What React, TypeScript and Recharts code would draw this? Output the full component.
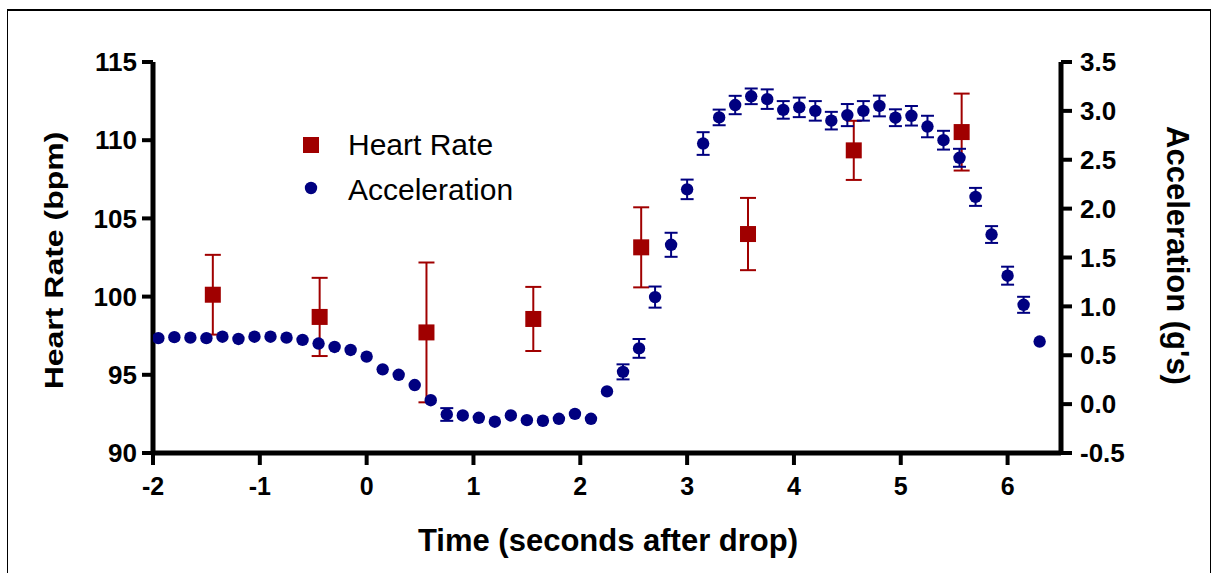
import { ErrorBar, Legend, Scatter, ScatterChart, XAxis, YAxis } from "recharts";

// acceleration samples (s after drop, g's, SEM)
const ACC_TIME = [
	-1.95, -1.8, -1.65, -1.5, -1.35, -1.2, -1.05, -0.9, -0.75, -0.6, -0.45, -0.3, -0.15, 0, 0.15, 0.3, 0.45, 0.6, 0.75,
	0.9, 1.05, 1.2, 1.35, 1.5, 1.65, 1.8, 1.95, 2.1, 2.25, 2.4, 2.55, 2.7, 2.85, 3.0, 3.15, 3.3, 3.45, 3.6, 3.75, 3.9,
	4.05, 4.2, 4.35, 4.5, 4.65, 4.8, 4.95, 5.1, 5.25, 5.4, 5.55, 5.7, 5.85, 6.0, 6.15, 6.3,
];
const ACC_VALUE = [
	0.675, 0.685, 0.68, 0.675, 0.69, 0.667, 0.69, 0.69, 0.68, 0.657, 0.62, 0.585, 0.554, 0.486, 0.356, 0.3, 0.195, 0.04,
	-0.106, -0.116, -0.14, -0.18, -0.116, -0.164, -0.17, -0.15, -0.1, -0.15, 0.13, 0.33, 0.57, 1.095, 1.63, 2.197, 2.666,
	2.933, 3.06, 3.149, 3.12, 3.01, 3.036, 3.0, 2.9, 2.957, 3.0, 3.05, 2.93, 2.95, 2.84, 2.7, 2.52, 2.12, 1.735, 1.314,
	1.016, 0.64,
];
const ACC_SEM = [
	0, 0, 0, 0, 0, 0, 0, 0, 0, 0, 0, 0, 0, 0, 0, 0, 0, 0, 0.065, 0, 0, 0, 0, 0, 0, 0, 0, 0, 0, 0.077, 0.096, 0.108, 0.123,
	0.1, 0.116, 0.08, 0.094, 0.08, 0.1, 0.09, 0.1, 0.1, 0.09, 0.113, 0.1, 0.106, 0.086, 0.1, 0.11, 0.096, 0.092, 0.092,
	0.086, 0.092, 0.082, 0,
];

// heart rate (s after drop, bpm, SEM)
const HR_TIME = [-1.44, -0.44, 0.56, 1.56, 2.57, 3.57, 4.56, 5.57];
const HR_VALUE = [100.12, 98.7, 97.71, 98.57, 103.15, 104.0, 109.35, 110.52];
const HR_SEM = [2.55, 2.5, 4.47, 2.05, 2.56, 2.31, 1.89, 2.46];

const X_TICKS = [-2, -1, 0, 1, 2, 3, 4, 5, 6];
const HR_TICKS = [90, 95, 100, 105, 110, 115];
const ACC_TICKS = [-0.5, 0, 0.5, 1, 1.5, 2, 2.5, 3, 3.5];

const RED = "#a00000";
const NAVY = "#000080";
const FONT = "'Liberation Sans', Arial, sans-serif";

const accData = ACC_TIME.map((t, i) => ({ t, v: ACC_VALUE[i], err: ACC_SEM[i] }));
const hrData = HR_TIME.map((t, i) => ({ t, v: HR_VALUE[i], err: HR_SEM[i] }));

const tickStyle = { fill: "#000", fontSize: 26, fontWeight: 700, fontFamily: FONT };
const axisLine = { stroke: "#000", strokeWidth: 5 };
const tickLine = { stroke: "#000", strokeWidth: 4 };

function Square(props: any) {
	const { cx, cy } = props;
	return <rect x={cx - 8} y={cy - 8} width={16} height={16} fill={RED} />;
}

function Dot(props: any) {
	const { cx, cy } = props;
	return <circle cx={cx} cy={cy} r={6.2} fill={NAVY} />;
}

function LeftTitle(props: any) {
	const vb = props.viewBox;
	const x = vb.x - 10;
	const y = vb.y + vb.height / 2 + 3;
	return (
		<text
			transform={`translate(${x},${y}) rotate(-90) scale(1,0.82)`}
			textAnchor="middle"
			fontSize={32}
			fontWeight={700}
			fontFamily={FONT}
			fill="#000"
		>
			Heart Rate (bpm)
		</text>
	);
}

function RightTitle(props: any) {
	const vb = props.viewBox;
	const x = vb.x + 106;
	const y = vb.y + vb.height / 2 - 2;
	return (
		<text
			transform={`translate(${x},${y}) rotate(90)`}
			textAnchor="middle"
			fontSize={31}
			fontWeight={700}
			fontFamily={FONT}
			fill="#000"
		>
			Acceleration (g's)
		</text>
	);
}

function BottomTitle(props: any) {
	const vb = props.viewBox;
	return (
		<text
			x={vb.x + vb.width / 2 + 1}
			y={vb.y + 98}
			textAnchor="middle"
			fontSize={31}
			fontWeight={700}
			fontFamily={FONT}
			fill="#000"
		>
			Time (seconds after drop)
		</text>
	);
}

function LegendBox() {
	return (
		<svg width={240} height={90} style={{ display: "block" }}>
			<rect x={8} y={12} width={16} height={16} fill={RED} />
			<text x={53} y={30} fontSize={30} fontFamily={FONT} fill="#000">
				Heart Rate
			</text>
			<circle cx={16} cy={63} r={6.2} fill={NAVY} />
			<text x={53} y={75} fontSize={30} fontFamily={FONT} fill="#000">
				Acceleration
			</text>
		</svg>
	);
}

export default function App() {
	return (
		<>
			<div
				style={{
					position: "absolute",
					left: 7,
					top: 9,
					width: 1204,
					height: 564,
					boxSizing: "border-box",
					borderTop: "2px solid #000",
					borderLeft: "1px solid #000",
					borderRight: "1px solid #000",
				}}
			/>
			<div style={{ position: "absolute", left: 0, top: 0 }}>
				<ScatterChart width={1218} height={573} margin={{ top: 62, left: 73, right: 77, bottom: 60 }}>
					<XAxis
						type="number"
						dataKey="t"
						domain={[-2, 6.5]}
						ticks={X_TICKS}
						interval={0}
						height={60}
						tick={{ ...tickStyle, fontSize: 25 }}
						tickSize={12}
						tickMargin={12}
						axisLine={axisLine}
						tickLine={tickLine}
						allowDataOverflow
						label={{ content: BottomTitle }}
					/>
					<YAxis
						yAxisId="hr"
						orientation="left"
						type="number"
						dataKey="v"
						domain={[90, 115]}
						ticks={HR_TICKS}
						interval={0}
						width={80}
						tick={tickStyle}
						tickSize={11}
						tickMargin={5}
						axisLine={axisLine}
						tickLine={tickLine}
						allowDataOverflow
						label={{ content: LeftTitle }}
					/>
					<YAxis
						yAxisId="acc"
						orientation="right"
						type="number"
						dataKey="v"
						domain={[-0.5, 3.5]}
						ticks={ACC_TICKS}
						interval={0}
						width={80}
						tick={tickStyle}
						tickSize={11}
						tickMargin={8}
						tickFormatter={(v: number) => v.toFixed(1)}
						axisLine={axisLine}
						tickLine={tickLine}
						allowDataOverflow
						label={{ content: RightTitle }}
					/>
					<Legend
						layout="vertical"
						align="center"
						verticalAlign="middle"
						wrapperStyle={{ left: 295, top: 125, width: 240 }}
						content={() => <LegendBox />}
					/>
					<Scatter name="Heart Rate" data={hrData} yAxisId="hr" shape={Square} isAnimationActive={false}>
						<ErrorBar dataKey="err" direction="y" width={8} strokeWidth={2} stroke={RED} isAnimationActive={false} />
					</Scatter>
					<Scatter name="Acceleration" data={accData} yAxisId="acc" shape={Dot} isAnimationActive={false}>
						<ErrorBar dataKey="err" direction="y" width={6.5} strokeWidth={2} stroke={NAVY} isAnimationActive={false} />
					</Scatter>
				</ScatterChart>
			</div>
		</>
	);
}
